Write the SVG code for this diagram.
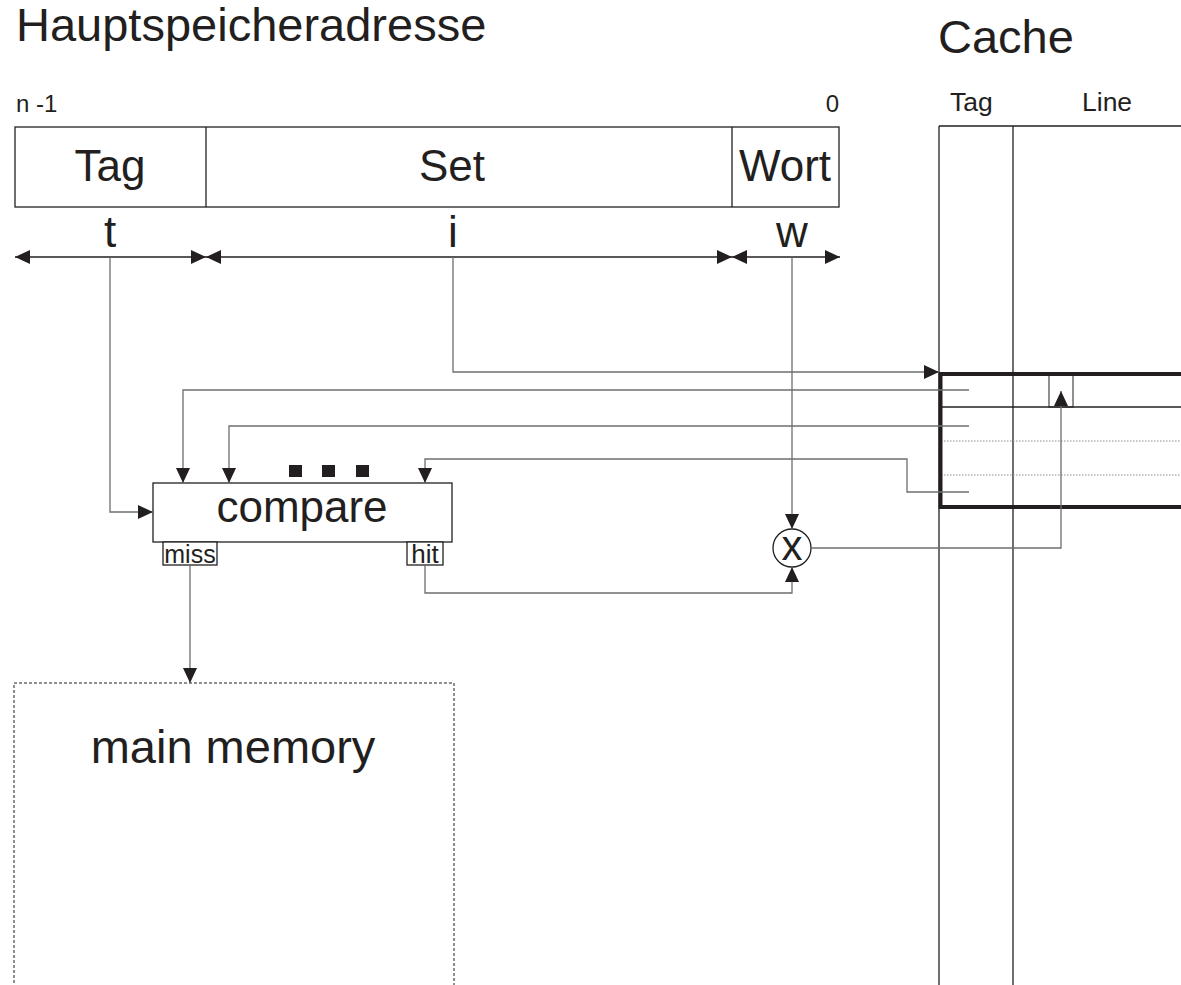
<svg xmlns="http://www.w3.org/2000/svg" width="1181" height="985" viewBox="0 0 1181 985">
<style>
text{font-family:"Liberation Sans",Arial,sans-serif;fill:#231f20}
.box{fill:#fff;stroke:#231f20;stroke-width:1.3}
.ln{fill:none;stroke:#231f20;stroke-width:1.3}
.con{fill:none;stroke:#6d6d6d;stroke-width:1.3}
.big{font-size:44px}
.mid{font-size:24px}
</style>
<defs>
<marker id="ah" viewBox="0 0 15 14" refX="15" refY="7" markerWidth="15" markerHeight="14" orient="auto-start-reverse" markerUnits="userSpaceOnUse"><path d="M0,0 L15,7 L0,14 z" fill="#231f20"/></marker>
</defs>
<rect width="1181" height="985" fill="#fff"/>
<text x="16" y="41" font-size="47">Hauptspeicheradresse</text>
<text x="938" y="53" font-size="47">Cache</text>

<g id="address">
<text x="16" y="112" class="mid">n -1</text>
<text x="839" y="112" class="mid" text-anchor="end">0</text>
<rect x="15" y="127" width="824" height="80" class="box"/>
<line x1="206" y1="127" x2="206" y2="207" class="ln"/>
<line x1="732" y1="127" x2="732" y2="207" class="ln"/>
<text x="110" y="181" class="big" text-anchor="middle">Tag</text>
<text x="452" y="181" class="big" text-anchor="middle">Set</text>
<text x="785" y="181" class="big" text-anchor="middle">Wort</text>
<text x="110" y="247" class="big" text-anchor="middle">t</text>
<text x="453" y="247" class="big" text-anchor="middle">i</text>
<text x="792" y="247" class="big" text-anchor="middle">w</text>
<line x1="15" y1="257" x2="206" y2="257" class="ln" marker-start="url(#ah)" marker-end="url(#ah)"/>
<line x1="206" y1="257" x2="732" y2="257" class="ln" marker-start="url(#ah)" marker-end="url(#ah)"/>
<line x1="732" y1="257" x2="840" y2="257" class="ln" marker-start="url(#ah)" marker-end="url(#ah)"/>
</g>

<g id="cache">
<text x="950" y="111" font-size="26.5">Tag</text>
<text x="1082" y="111" font-size="26.5">Line</text>
<line x1="939" y1="126" x2="1181" y2="126" class="ln" stroke-width="1.5"/>
<line x1="939" y1="126" x2="939" y2="985" class="ln" stroke-width="1.5"/>
<line x1="1013" y1="126" x2="1013" y2="985" class="ln" stroke-width="1.5"/>
<line x1="939" y1="407" x2="1181" y2="407" class="ln"/>
<line x1="941" y1="441" x2="1181" y2="441" stroke="#8a8a8a" stroke-width="1" stroke-dasharray="1.5,1.5"/>
<line x1="941" y1="475" x2="1181" y2="475" stroke="#8a8a8a" stroke-width="1" stroke-dasharray="1.5,1.5"/>
<rect x="1049" y="375" width="24" height="32" fill="none" stroke="#231f20" stroke-width="1"/>
<rect x="940.5" y="374" width="260" height="133" fill="none" stroke="#231f20" stroke-width="4"/>
</g>

<g id="compare">
<rect x="153" y="483" width="299" height="59" class="box"/>
<text x="302" y="522" class="big" text-anchor="middle">compare</text>
<rect x="289" y="465" width="13" height="12" fill="#231f20"/>
<rect x="322" y="465" width="13" height="12" fill="#231f20"/>
<rect x="356" y="465" width="13" height="12" fill="#231f20"/>
<rect x="163" y="542" width="54" height="23" class="box" stroke-width="1"/>
<text x="190" y="563" font-size="25" text-anchor="middle">miss</text>
<rect x="407" y="542" width="36" height="23" class="box" stroke-width="1"/>
<text x="425" y="563" font-size="26" text-anchor="middle">hit</text>
</g>

<g id="multiplier">
<circle cx="792" cy="548" r="19" class="box"/>
<text x="792" y="560" font-size="42" text-anchor="middle">x</text>
</g>

<g id="mainmemory">
<rect x="14" y="683" width="440" height="330" fill="#fff" stroke="#231f20" stroke-width="1" stroke-dasharray="3,2"/>
<text x="233" y="763" font-size="47" text-anchor="middle">main memory</text>
</g>

<g id="connectors">
<polyline points="110,257 110,512 153,512" class="con" marker-end="url(#ah)"/>
<polyline points="453,257 453,372 939,372" class="con" marker-end="url(#ah)"/>
<polyline points="792,257 792,529" class="con" marker-end="url(#ah)"/>
<polyline points="969,390 183,390 183,483" class="con" marker-end="url(#ah)"/>
<polyline points="969,426 229,426 229,483" class="con" marker-end="url(#ah)"/>
<polyline points="969,492 907,492 907,459 425,459 425,483" class="con" marker-end="url(#ah)"/>
<polyline points="425,565 425,593 792,593 792,567" class="con" marker-end="url(#ah)"/>
<polyline points="811,548 1061,548 1061,391" class="con" marker-end="url(#ah)"/>
<polyline points="190,565 190,683" class="con" marker-end="url(#ah)"/>
</g>
</svg>
